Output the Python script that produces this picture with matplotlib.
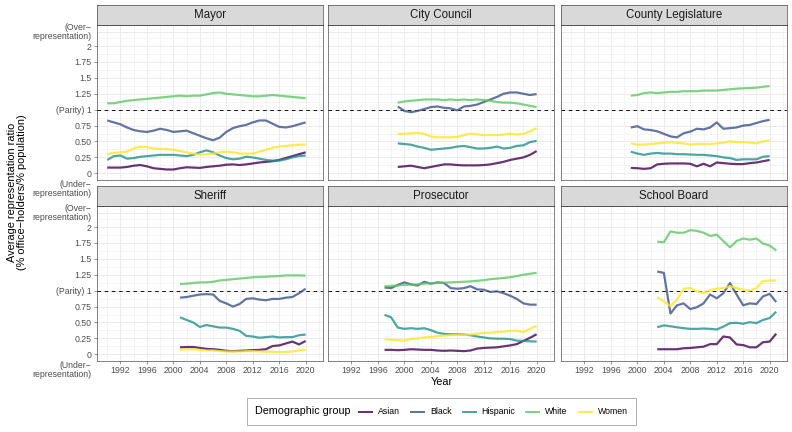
import numpy as np
import matplotlib.pyplot as plt
from matplotlib.lines import Line2D
from matplotlib.offsetbox import HPacker, TextArea, DrawingArea, AnchoredOffsetbox

plt.rcParams['font.family'] = ['Liberation Sans', 'DejaVu Sans']

# --- data: average representation ratio by office, group and year ---
groups = ["Asian", "Black", "Hispanic", "White", "Women"]
colors = ["#440154", "#3B528B", "#21908C", "#5DC863", "#FDE725"]

mayor_years = list(range(1990, 2021))
mayor_asian = [0.09, 0.09, 0.09, 0.10, 0.12, 0.13, 0.11, 0.08, 0.07, 0.06, 0.06, 0.08, 0.095, 0.09, 0.085, 0.10,
               0.11, 0.12, 0.135, 0.14, 0.13, 0.14, 0.155, 0.17, 0.18, 0.19, 0.21, 0.24, 0.27, 0.30, 0.33]
mayor_black = [0.83, 0.80, 0.77, 0.72, 0.68, 0.66, 0.65, 0.67, 0.70, 0.68, 0.65, 0.66, 0.67, 0.63, 0.59, 0.55,
               0.52, 0.56, 0.65, 0.71, 0.74, 0.76, 0.80, 0.83, 0.83, 0.78, 0.73, 0.72, 0.74, 0.77, 0.80]
mayor_hispanic = [0.21, 0.27, 0.28, 0.23, 0.24, 0.26, 0.27, 0.28, 0.29, 0.29, 0.29, 0.28, 0.27, 0.29, 0.33, 0.36,
                  0.33, 0.28, 0.24, 0.22, 0.23, 0.26, 0.25, 0.23, 0.21, 0.20, 0.20, 0.22, 0.25, 0.27, 0.28]
mayor_white = [1.10, 1.10, 1.12, 1.14, 1.15, 1.16, 1.17, 1.18, 1.19, 1.20, 1.21, 1.22, 1.21, 1.22, 1.22, 1.24,
               1.26, 1.27, 1.25, 1.24, 1.23, 1.22, 1.21, 1.21, 1.22, 1.23, 1.22, 1.21, 1.20, 1.19, 1.18]
mayor_women = [0.30, 0.32, 0.33, 0.34, 0.39, 0.42, 0.41, 0.39, 0.38, 0.38, 0.37, 0.35, 0.33, 0.31, 0.29, 0.30,
               0.31, 0.33, 0.34, 0.33, 0.31, 0.31, 0.31, 0.34, 0.37, 0.40, 0.42, 0.43, 0.44, 0.45, 0.45]

cc_years = list(range(1999, 2021))
cc_asian = [0.10, 0.11, 0.12, 0.10, 0.08, 0.10, 0.12, 0.14, 0.14, 0.13, 0.125, 0.125, 0.125, 0.13, 0.14, 0.16,
            0.18, 0.21, 0.23, 0.25, 0.29, 0.35]
cc_black = [1.05, 0.98, 0.96, 0.98, 1.01, 1.04, 1.05, 1.03, 1.02, 0.99, 1.05, 1.06, 1.08, 1.12, 1.16, 1.20,
            1.25, 1.27, 1.27, 1.25, 1.23, 1.245]
cc_hispanic = [0.47, 0.46, 0.45, 0.42, 0.40, 0.37, 0.38, 0.39, 0.40, 0.42, 0.43, 0.41, 0.39, 0.39, 0.40, 0.42,
               0.39, 0.40, 0.43, 0.44, 0.49, 0.51]
cc_white = [1.11, 1.13, 1.14, 1.15, 1.16, 1.16, 1.16, 1.15, 1.16, 1.15, 1.16, 1.15, 1.16, 1.15, 1.14, 1.12,
            1.11, 1.11, 1.10, 1.08, 1.06, 1.04]
cc_women = [0.62, 0.62, 0.63, 0.635, 0.62, 0.58, 0.565, 0.565, 0.565, 0.57, 0.60, 0.62, 0.61, 0.60, 0.60, 0.60,
            0.61, 0.62, 0.61, 0.62, 0.66, 0.71]

cl_years = list(range(1999, 2021))
cl_asian = [0.085, 0.08, 0.07, 0.08, 0.14, 0.15, 0.155, 0.155, 0.155, 0.15, 0.11, 0.15, 0.11, 0.17, 0.16, 0.15,
            0.145, 0.145, 0.16, 0.17, 0.19, 0.21]
cl_black = [0.72, 0.74, 0.69, 0.68, 0.66, 0.62, 0.58, 0.565, 0.63, 0.655, 0.70, 0.69, 0.72, 0.80, 0.70, 0.71,
            0.72, 0.75, 0.76, 0.79, 0.82, 0.84]
cl_hispanic = [0.34, 0.31, 0.29, 0.31, 0.32, 0.31, 0.31, 0.30, 0.30, 0.295, 0.29, 0.29, 0.28, 0.27, 0.25, 0.24,
               0.21, 0.22, 0.22, 0.22, 0.26, 0.27]
cl_white = [1.22, 1.23, 1.26, 1.27, 1.26, 1.27, 1.28, 1.28, 1.29, 1.29, 1.29, 1.30, 1.30, 1.30, 1.31, 1.32,
            1.33, 1.335, 1.34, 1.345, 1.36, 1.37]
cl_women = [0.47, 0.45, 0.45, 0.46, 0.47, 0.48, 0.49, 0.48, 0.47, 0.45, 0.46, 0.46, 0.46, 0.47, 0.48, 0.50,
            0.49, 0.49, 0.48, 0.47, 0.50, 0.52]

sh_years = list(range(2001, 2021))
sh_asian = [0.11, 0.115, 0.115, 0.10, 0.085, 0.08, 0.07, 0.055, 0.05, 0.055, 0.06, 0.065, 0.07, 0.08, 0.13,
            0.14, 0.17, 0.20, 0.155, 0.21]
sh_black = [0.89, 0.90, 0.92, 0.94, 0.945, 0.94, 0.84, 0.80, 0.75, 0.79, 0.87, 0.88, 0.86, 0.85, 0.87, 0.87,
            0.89, 0.90, 0.96, 1.03]
sh_hispanic = [0.58, 0.54, 0.50, 0.43, 0.46, 0.44, 0.42, 0.42, 0.40, 0.37, 0.29, 0.28, 0.26, 0.27, 0.28,
               0.265, 0.27, 0.27, 0.30, 0.31]
sh_white = [1.105, 1.11, 1.12, 1.13, 1.13, 1.14, 1.16, 1.17, 1.18, 1.19, 1.20, 1.21, 1.215, 1.22, 1.225,
            1.23, 1.24, 1.24, 1.24, 1.235]
sh_women = [0.07, 0.08, 0.08, 0.07, 0.06, 0.06, 0.05, 0.045, 0.045, 0.045, 0.05, 0.05, 0.045, 0.04, 0.04,
            0.035, 0.035, 0.045, 0.06, 0.07]

pr_years = list(range(1997, 2021))
pr_asian = [0.07, 0.07, 0.065, 0.07, 0.08, 0.075, 0.07, 0.07, 0.06, 0.055, 0.06, 0.055, 0.05, 0.06, 0.09,
            0.10, 0.105, 0.11, 0.125, 0.14, 0.16, 0.21, 0.26, 0.315]
pr_black = [1.05, 1.04, 1.09, 1.13, 1.10, 1.08, 1.14, 1.11, 1.13, 1.12, 1.04, 1.03, 1.04, 1.07, 1.02, 1.015,
            0.98, 0.99, 0.96, 0.92, 0.87, 0.80, 0.78, 0.78]
pr_hispanic = [0.62, 0.58, 0.42, 0.40, 0.41, 0.40, 0.41, 0.38, 0.34, 0.32, 0.315, 0.315, 0.31, 0.30, 0.28,
               0.265, 0.25, 0.245, 0.245, 0.24, 0.215, 0.21, 0.205, 0.20]
pr_white = [1.07, 1.075, 1.08, 1.09, 1.095, 1.10, 1.11, 1.115, 1.12, 1.125, 1.13, 1.135, 1.14, 1.145, 1.155,
            1.165, 1.18, 1.19, 1.20, 1.21, 1.23, 1.25, 1.265, 1.28]
pr_women = [0.235, 0.23, 0.22, 0.215, 0.24, 0.25, 0.265, 0.27, 0.285, 0.295, 0.30, 0.305, 0.305, 0.31, 0.325,
            0.335, 0.34, 0.35, 0.355, 0.37, 0.37, 0.35, 0.40, 0.445]

sb_years = list(range(2003, 2022))
sb_asian = [0.08, 0.08, 0.08, 0.08, 0.095, 0.10, 0.11, 0.12, 0.16, 0.16, 0.28, 0.265, 0.155, 0.145, 0.11,
            0.11, 0.19, 0.20, 0.325]
sb_black = [1.30, 1.28, 0.64, 0.77, 0.80, 0.71, 0.74, 0.80, 0.94, 0.88, 0.96, 1.12, 0.94, 0.77, 0.80, 0.79,
            0.91, 0.95, 0.82]
sb_hispanic = [0.425, 0.455, 0.44, 0.425, 0.41, 0.40, 0.40, 0.405, 0.40, 0.39, 0.435, 0.49, 0.495, 0.48,
               0.505, 0.49, 0.54, 0.57, 0.67]
sb_white = [1.77, 1.76, 1.93, 1.91, 1.91, 1.95, 1.94, 1.91, 1.86, 1.88, 1.78, 1.68, 1.78, 1.82, 1.80, 1.82,
            1.74, 1.71, 1.63]
sb_women = [0.90, 0.83, 0.76, 0.86, 1.03, 1.04, 0.99, 0.96, 1.01, 1.03, 1.04, 1.07, 1.04, 1.015, 1.00, 1.04,
            1.15, 1.16, 1.16]

offices = [
    ("Mayor", mayor_years, [mayor_asian, mayor_black, mayor_hispanic, mayor_white, mayor_women]),
    ("City Council", cc_years, [cc_asian, cc_black, cc_hispanic, cc_white, cc_women]),
    ("County Legislature", cl_years, [cl_asian, cl_black, cl_hispanic, cl_white, cl_women]),
    ("Sheriff", sh_years, [sh_asian, sh_black, sh_hispanic, sh_white, sh_women]),
    ("Prosecutor", pr_years, [pr_asian, pr_black, pr_hispanic, pr_white, pr_women]),
    ("School Board", sb_years, [sb_asian, sb_black, sb_hispanic, sb_white, sb_women]),
]

y_ticks = [0, 0.25, 0.5, 0.75, 1, 1.25, 1.5, 1.75, 2]
y_labels = ["0", "0.25", "0.50", "0.75", "(Parity) 1", "1.25", "1.5", "1.75", "2"]
x_ticks = list(range(1992, 2021, 4))

# --- layout (pixels on a 792x432 canvas) ---
W, H = 792, 432
fig = plt.figure(figsize=(W / 72, H / 72), dpi=72)

col_left = [97, 328, 561]
panel_w = 225.5
row_top = [25, 206]
panel_h = 155
strip_h = 20

grey20 = "#333333"
grey30 = "#4D4D4D"
grid_c = "#EBEBEB"


def fig_rect(x, y, w, h):
    return [x / W, 1 - (y + h) / H, w / W, h / H]


for i, (name, years, series) in enumerate(offices):
    r, c = divmod(i, 3)
    ax = fig.add_axes(fig_rect(col_left[c], row_top[r], panel_w, panel_h))
    sx = fig.add_axes(fig_rect(col_left[c], row_top[r] - strip_h, panel_w, strip_h))

    # strip
    sx.set_facecolor("#D9D9D9")
    sx.set_xticks([])
    sx.set_yticks([])
    for sp in sx.spines.values():
        sp.set_color(grey20)
        sp.set_linewidth(0.6)
    sx.text(0.5, 0.5, name, ha="center", va="center", fontsize=11.5, color="#1A1A1A",
            transform=sx.transAxes)

    ax.set_xlim(1988.45, 2022.55)
    ax.set_ylim(-0.105, 2.33)

    # grid
    for gx in range(1990, 2023, 4):
        ax.axvline(gx, color=grid_c, lw=0.5, zorder=0)
    for gx in x_ticks:
        ax.axvline(gx, color=grid_c, lw=1.0, zorder=0)
    for gy in np.arange(-0.125, 2.3, 0.25):
        ax.axhline(gy, color=grid_c, lw=0.5, zorder=0)
    for gy in y_ticks + [2.22]:
        ax.axhline(gy, color=grid_c, lw=1.0, zorder=0)

    ax.axhline(1, color="black", lw=0.9, ls=(0, (4, 4)), zorder=1)

    for vals, col in zip(series, colors):
        ax.plot(years, vals, color=col, lw=2.2, alpha=0.8, solid_capstyle="butt",
                solid_joinstyle="round", zorder=2)

    for sp in ax.spines.values():
        sp.set_color(grey20)
        sp.set_linewidth(0.6)

    ax.set_xticks(x_ticks)
    ax.set_yticks(y_ticks)
    ax.tick_params(length=2.75, width=0.5, color=grey20, labelcolor=grey30,
                   labelsize=8.8, pad=2.5)
    if r == 1:
        ax.set_xticklabels([str(t) for t in x_ticks])
    else:
        ax.tick_params(axis="x", length=0, labelbottom=False)
    if c == 0:
        ax.set_yticklabels(y_labels)
        for yv, txt in [(2.22, "(Over\u2212\nrepresentation)"), (-0.245, "(Under\u2212\nrepresentation)")]:
            ax.annotate(txt, xy=(0, yv), xycoords=("axes fraction", "data"),
                        xytext=(-5.5, 0), textcoords="offset points", ha="right", va="center",
                        fontsize=8.8, color=grey30, linespacing=0.95, annotation_clip=False)
    else:
        ax.tick_params(axis="y", length=0, labelleft=False)

# axis titles
fig.text(441.5 / W, 1 - 382 / H, "Year", ha="center", va="center", fontsize=11)
fig.text(17.5 / W, 1 - 192.5 / H,
         "Average representation ratio\n(% office\u2212holders/% population)",
         ha="center", va="center", rotation=90, fontsize=11, linespacing=1.0)

# legend with title on the left
items = []
for g, col in zip(groups, colors):
    da = DrawingArea(13, 8, 0, 0)
    da.add_artist(Line2D([0, 13], [4, 4], color=col, lw=2.0, alpha=0.8))
    items.append(HPacker(children=[da, TextArea(g, textprops=dict(fontsize=8.8))],
                         sep=6, align="center"))
title_box = TextArea("Demographic group", textprops=dict(fontsize=10.7))
packed = HPacker(children=[title_box, HPacker(children=items, sep=11, align="center")],
                 sep=8, align="center")
anchored = AnchoredOffsetbox(loc="center", child=packed, pad=0.5, borderpad=0,
                             frameon=True, bbox_to_anchor=(441.5 / W, 1 - 411.5 / H),
                             bbox_transform=fig.transFigure)
anchored.patch.set_edgecolor("#7F7F7F")
anchored.patch.set_linewidth(0.6)
anchored.patch.set_boxstyle("square", pad=0.35)
fig.add_artist(anchored)

fig.savefig("out.png", dpi=72)
